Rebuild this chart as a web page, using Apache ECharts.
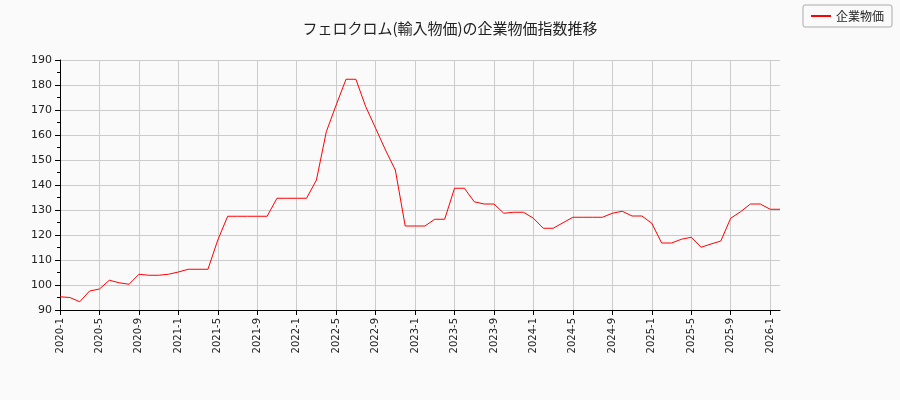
<!DOCTYPE html>
<html><head><meta charset="utf-8">
<script src="https://cdn.jsdelivr.net/npm/echarts@6/dist/echarts.min.js"></script>
<style>body{margin:0;background:#fafafa}#c{width:900px;height:400px}</style>
</head><body><div id="c"></div>
<script>
const seriesName = '企業物価'
const values = [
  95.3, 95, 93.3, 97.6, 98.4, 101.9, 100.9, 100.3, 104.3, 103.9, 103.9, 104.3,
  105.2, 106.3, 106.3, 106.3, 118, 127.5, 127.5, 127.5, 127.5, 127.5, 134.7, 134.7,
  134.7, 134.7, 142, 161.3, 172, 182.3, 182.3, 171.3, 162.7, 154, 146, 123.6,
  123.6, 123.6, 126.3, 126.3, 138.7, 138.7, 133.3, 132.4, 132.4, 128.7, 129.1, 129.1,
  126.7, 122.7, 122.7, 124.9, 127.1, 127.1, 127.1, 127.1, 128.7, 129.5, 127.6, 127.6,
  124.7, 116.8, 116.8, 118.3, 119.1, 115.1, 116.4, 117.6, 126.7, 129.3, 132.4, 132.4,
  130.3, 130.3
]
const categories = values.map((v, i) => (2020 + Math.floor(i / 12)) + '-' + (i % 12 + 1))

const myChart = echarts.init(document.getElementById('c'))
const option = {
  backgroundColor: '#fafafa',
  textStyle: { fontFamily: 'DejaVu Sans' },
  title: {
    text: 'フェロクロム(輸入物価)の企業物価指数推移',
    left: 'center', top: 16,
    textStyle: { fontFamily: 'Noto Sans CJK JP', fontSize: 15, fontWeight: 'normal', color: '#222' }
  },
  legend: {
    right: 8, top: 5, itemWidth: 20, itemHeight: 2,
    borderColor: '#aaa', borderWidth: 1, borderRadius: 2, padding: [5, 8],
    textStyle: { fontFamily: 'Noto Sans CJK JP', fontSize: 12, color: '#222' },
    data: [{ name: seriesName, icon: 'rect' }]
  },
  grid: { left: 60, right: 120, top: 60, bottom: 90 },
  xAxis: {
    type: 'category', data: categories, boundaryGap: false,
    axisLine: { lineStyle: { color: '#000' } },
    axisTick: { interval: 3, lineStyle: { color: '#000' } },
    axisLabel: { interval: 3, rotate: 90, fontSize: 10, color: '#222' },
    splitLine: { show: true, interval: 3, lineStyle: { color: '#ccc' } }
  },
  yAxis: {
    type: 'value', min: 90, max: 190, interval: 10,
    axisLine: { show: true, lineStyle: { color: '#000' } },
    axisTick: { show: true, lineStyle: { color: '#000' } },
    minorTick: { show: true, splitNumber: 2, lineStyle: { color: '#000' } },
    axisLabel: { fontSize: 11, color: '#222' },
    splitLine: { lineStyle: { color: '#ccc' } }
  },
  series: [{
    name: seriesName, type: 'line', data: values, symbol: 'none',
    lineStyle: { color: '#ff0000', width: 1 }, itemStyle: { color: '#ff0000' }
  }]
}
myChart.setOption(option)
</script></body></html>
